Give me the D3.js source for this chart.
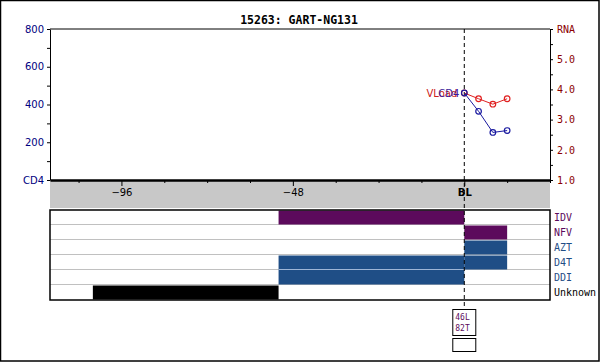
<!DOCTYPE html>
<html>
<head>
<meta charset="utf-8">
<script src="https://cdn.jsdelivr.net/npm/d3@7"></script>
<style>
  body { margin: 0; background: #fff; }
  svg { display: block; }
</style>
</head>
<body>
<div id="chart"></div>
<script>
// data
const title = "15263: GART-NG131"
const weeks = [0, 4, 8, 12]
const cd4 = [461, 364, 252, 262]
const rna = [3.88, 3.69, 3.51, 3.69]

const drugs = ["IDV", "NFV", "AZT", "D4T", "DDI", "Unknown"]
const drugColors = ["#5c0a5c", "#5c0a5c", "#1f4e86", "#1f4e86", "#1f4e86", "#000000"]
const labelColors = ["#5c0a5c", "#5c0a5c", "#1f4e86", "#1f4e86", "#1f4e86", "#000000"]
const regStart = [-52, 0, 0, 0, -52, -104]
const regEnd   = [0, 12, 12, 12, 0, -52]
const regDrug  = ["IDV", "NFV", "AZT", "D4T", "D4T", "Unknown"]
const regDrug2 = [null, null, null, null, "DDI", null]

const xTickLabels = [-96, -48]
const mutations = ["46L", "82T"]

const w = 600, h = 362
const pLeft = 50, pRight = 550, pTop = 29, pBottom = 180

var svg = d3.select("#chart").append("svg")
    .attr("width", w).attr("height", h)
    .style("font-family", "DejaVu Sans, Verdana, sans-serif")

svg.append("rect").attr("x", 0.5).attr("y", 0.5)
    .attr("width", w - 1.5).attr("height", h - 1.5)
    .attr("fill", "#fff").attr("stroke", "#000").attr("stroke-width", 1.5)

var x = d3.scaleLinear().domain([-116, 24]).range([pLeft, pRight])
var yCD4 = d3.scaleLinear().domain([0, 800]).range([pBottom, pTop])
var yRNA = d3.scaleLinear().domain([1, 6]).range([pBottom, pTop])

// title
svg.append("text").attr("x", 299).attr("y", 24)
    .attr("text-anchor", "middle")
    .style("font-family", "DejaVu Sans Mono, monospace")
    .style("font-weight", "bold").style("font-size", "11.5px")
    .text(title)

// gray band under axis
svg.append("rect").attr("x", pLeft).attr("y", pBottom)
    .attr("width", pRight - pLeft).attr("height", 28).attr("fill", "#c8c8c8")

// plot frame
svg.append("line").attr("x1", pLeft).attr("x2", pRight).attr("y1", pTop).attr("y2", pTop)
    .attr("stroke", "#000")

// left axis
var gl = svg.append("g").attr("transform", "translate(" + pLeft + ",0)")
    .call(d3.axisLeft(yCD4).tickValues(d3.range(0, 801, 100)).tickSize(3).tickSizeOuter(0)
        .tickFormat(d => d === 0 ? "CD4" : (d % 200 === 0 ? d : "")))
gl.select(".domain").attr("stroke", "#000")
gl.selectAll("text").attr("fill", "#000080").style("font-size", "10px")
    .style("font-family", "DejaVu Sans, Verdana, sans-serif")

// right axis
var gr = svg.append("g").attr("transform", "translate(" + pRight + ",0)")
    .call(d3.axisRight(yRNA).tickValues(d3.range(1, 6.01, 0.5)).tickSize(3).tickSizeOuter(0)
        .tickFormat(d => d === 6 ? "RNA" : (d % 1 === 0 ? d.toFixed(1) : "")))
gr.select(".domain").attr("stroke", "#000")
gr.selectAll("text").attr("fill", "#8b0000").attr("x", 7).style("font-size", "10px")
    .style("font-family", "DejaVu Sans Mono, monospace")

// x axis
var gx = svg.append("g").attr("transform", "translate(0," + pBottom + ")")
    .call(d3.axisBottom(x).tickValues(d3.range(-108, 25, 12)).tickSize(3).tickSizeOuter(0)
        .tickFormat(d => (xTickLabels.indexOf(d) >= 0 ? d : (d === 0 ? "BL" : ""))))
gx.select(".domain").attr("stroke", "#000").attr("stroke-width", 2.5)
gx.selectAll(".tick line").attr("y2", d => d % 48 === 0 ? 6 : 3)
gx.selectAll("text").attr("fill", "#000").attr("y", 9).style("font-size", "10px")
    .style("font-family", "DejaVu Sans, Verdana, sans-serif")
    .style("font-weight", d => d === 0 ? "bold" : "normal")
    .text(d => (xTickLabels.indexOf(d) >= 0 ? "\u2212" + Math.abs(d) : (d === 0 ? "BL" : "")))

// drug panel
var rowH = 15, panelTop = 210
var yRow = d3.scaleBand().domain(drugs).range([panelTop, panelTop + rowH * drugs.length])

svg.append("rect").attr("x", pLeft).attr("y", panelTop)
    .attr("width", pRight - pLeft).attr("height", rowH * drugs.length).attr("fill", "#fff")

svg.selectAll(".rowline").data(drugs.slice(1)).enter().append("line")
    .attr("x1", pLeft).attr("x2", pRight)
    .attr("y1", d => yRow(d) - 0.5).attr("y2", d => yRow(d) - 0.5)
    .attr("stroke", "#c0c0c0")

svg.selectAll(".reg").data(regStart).enter().append("rect")
    .attr("x", (d, i) => x(d))
    .attr("width", (d, i) => x(regEnd[i]) - x(d))
    .attr("y", (d, i) => yRow(regDrug[i]) + 0.5)
    .attr("height", (d, i) => (regDrug2[i] ? yRow(regDrug2[i]) + rowH : yRow(regDrug[i]) + rowH) - yRow(regDrug[i]) - 1)
    .attr("fill", (d, i) => drugColors[drugs.indexOf(regDrug[i])])

// light divider inside merged D4T/DDI bar
svg.append("line").attr("x1", x(-52)).attr("x2", x(0))
    .attr("y1", yRow("DDI") - 0.5).attr("y2", yRow("DDI") - 0.5)
    .attr("stroke", "#9fb6d6")

svg.append("rect").attr("x", pLeft).attr("y", panelTop)
    .attr("width", pRight - pLeft).attr("height", rowH * drugs.length)
    .attr("fill", "none").attr("stroke", "#000").attr("stroke-width", 1.5)

svg.selectAll(".druglabel").data(drugs).enter().append("text")
    .attr("x", pRight + 4).attr("y", d => yRow(d) + 11)
    .attr("fill", (d, i) => labelColors[i])
    .style("font-family", "DejaVu Sans Mono, monospace").style("font-size", "10px")
    .text(d => d)

// baseline dashed line
svg.append("line").attr("x1", x(0)).attr("x2", x(0))
    .attr("y1", pTop).attr("y2", 309)
    .attr("stroke", "#000").attr("stroke-dasharray", "4,3")

// mutation boxes
svg.append("rect").attr("x", x(0) - 11.5).attr("y", 309.5)
    .attr("width", 23).attr("height", 26).attr("fill", "#fff").attr("stroke", "#000")
svg.selectAll(".mut").data(mutations).enter().append("text")
    .attr("x", x(0) - 9).attr("y", (d, i) => 320 + i * 11)
    .attr("fill", "#5c0a5c")
    .style("font-family", "DejaVu Sans Mono, monospace").style("font-size", "8px")
    .text(d => d)
svg.append("rect").attr("x", x(0) - 11.5).attr("y", 338.5)
    .attr("width", 23).attr("height", 13).attr("fill", "#fff").attr("stroke", "#000")

// series
var lineRNA = d3.line().x((d, i) => x(weeks[i])).y(d => yRNA(d))
var lineCD4 = d3.line().x((d, i) => x(weeks[i])).y(d => yCD4(d))

svg.append("path").datum(rna).attr("d", lineRNA)
    .attr("fill", "none").attr("stroke", "#e02020")
svg.selectAll(".prna").data(rna).enter().append("circle")
    .attr("cx", (d, i) => x(weeks[i])).attr("cy", d => yRNA(d)).attr("r", 2.8)
    .attr("fill", "none").attr("stroke", "#e02020").attr("stroke-width", 1.2)

svg.append("path").datum(cd4).attr("d", lineCD4)
    .attr("fill", "none").attr("stroke", "#1a1aa0")
svg.selectAll(".pcd4").data(cd4).enter().append("circle")
    .attr("cx", (d, i) => x(weeks[i])).attr("cy", d => yCD4(d)).attr("r", 2.8)
    .attr("fill", "none").attr("stroke", "#1a1aa0").attr("stroke-width", 1.2)

svg.append("text").attr("x", x(0) - 7).attr("y", yRNA(rna[0]) + 4)
    .attr("text-anchor", "end").attr("fill", "#cc2020")
    .style("font-size", "10px").text("VLoad")
svg.append("text").attr("x", x(0) - 5).attr("y", yCD4(cd4[0]) + 4)
    .attr("text-anchor", "end").attr("fill", "#3a1a9a")
    .style("font-size", "10px").text("CD4")
</script>
</body>
</html>
